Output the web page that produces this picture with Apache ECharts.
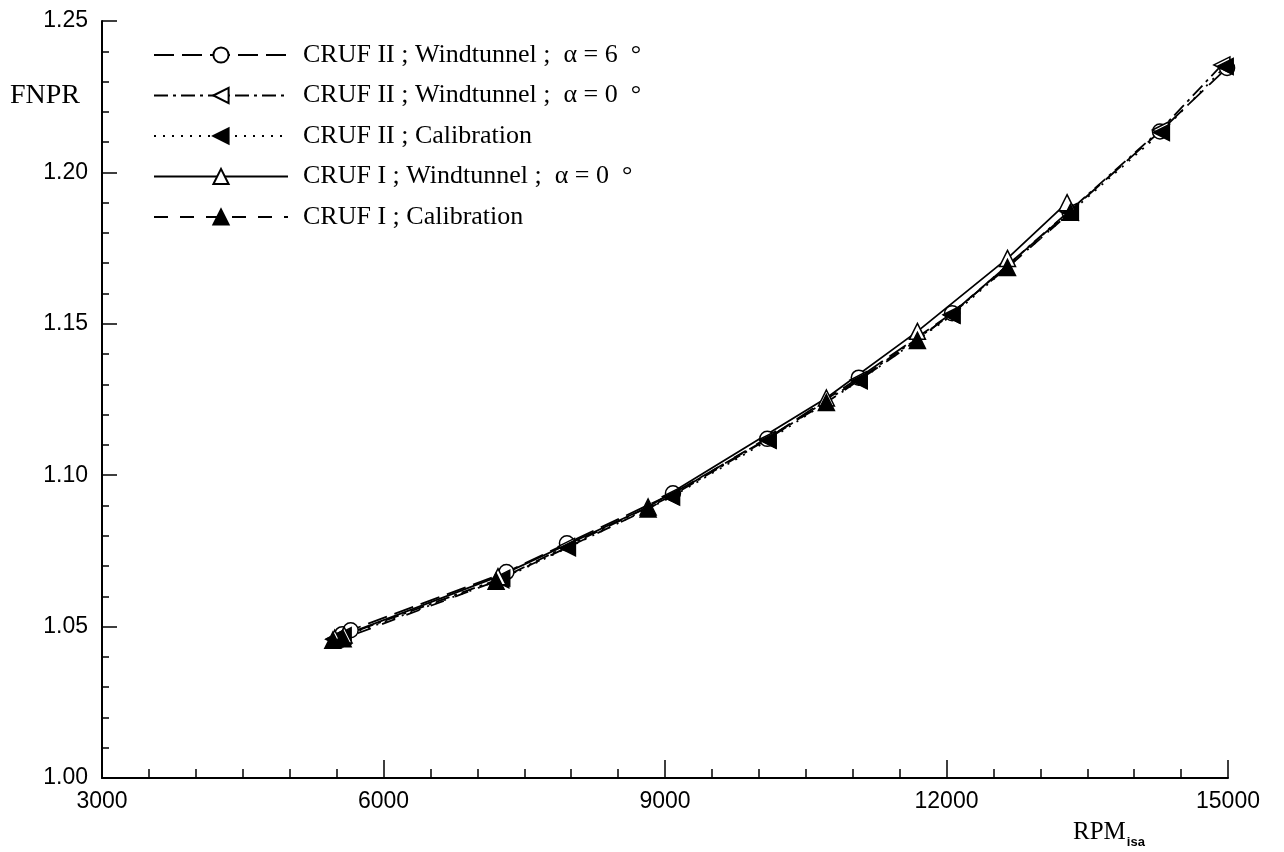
<!DOCTYPE html>
<html>
<head>
<meta charset="utf-8">
<script src="https://cdn.jsdelivr.net/npm/echarts@6/dist/echarts.min.js"></script>
<style>
  html, body { margin: 0; padding: 0; background: #fff; }
  #chart { width: 1284px; height: 852px; }
</style>
</head>
<body>
<div id="chart"></div>
<script>
// CRUF II ; Windtunnel ; alpha = 6 deg (open circles)
const cruf2Wt6Rpm = [5560, 5650, 7310, 7955, 9085, 10090, 11065, 12060, 13310, 14275, 14990]
const cruf2Wt6Fnpr = [1.0475, 1.0488, 1.0680, 1.0775, 1.0940, 1.1120, 1.1322, 1.1535, 1.1870, 1.2135, 1.2345]

// CRUF II ; Windtunnel ; alpha = 0 deg (open left triangles)
const cruf2Wt0Rpm = [5480, 5570, 7260, 7950, 9060, 10090, 11060, 12050, 13300, 14280, 14935]
const cruf2Wt0Fnpr = [1.0460, 1.0470, 1.0660, 1.0765, 1.0930, 1.1118, 1.1315, 1.1530, 1.1870, 1.2140, 1.2355]

// CRUF II ; Calibration (filled left triangles)
const cruf2CalRpm = [5470, 5560, 7250, 7960, 9070, 10100, 11070, 12060, 13320, 14290, 14970]
const cruf2CalFnpr = [1.0458, 1.0465, 1.0655, 1.0760, 1.0928, 1.1115, 1.1312, 1.1528, 1.1868, 1.2132, 1.2350]

// CRUF I ; Windtunnel ; alpha = 0 deg (open triangles)
const cruf1WtRpm = [5480, 5580, 7220, 8820, 10720, 11690, 12650, 13285]
const cruf1WtFnpr = [1.0462, 1.0472, 1.0665, 1.0895, 1.1255, 1.1475, 1.1716, 1.1900]

// CRUF I ; Calibration (filled triangles)
const cruf1CalRpm = [5460, 5570, 7200, 8820, 10720, 11690, 12650, 13320]
const cruf1CalFnpr = [1.0455, 1.0460, 1.0650, 1.0888, 1.1240, 1.1445, 1.1686, 1.1868]

const legendNames = [
  'CRUF II ; Windtunnel ;  α = 6  °',
  'CRUF II ; Windtunnel ;  α = 0  °',
  'CRUF II ; Calibration',
  'CRUF I ; Windtunnel ;  α = 0  °',
  'CRUF I ; Calibration'
]

const xTicks = [3000, 6000, 9000, 12000, 15000]
const yTicks = [1.00, 1.05, 1.10, 1.15, 1.20, 1.25]

const serif = '"Liberation Serif", "DejaVu Serif", serif'
const sans = '"Liberation Sans", Arial, sans-serif'

function pairs(xs, ys) {
  return xs.map((x, i) => [x, ys[i]])
}

function makeSeries(name, xs, ys, symbol, rotate, size, filled, dash) {
  return {
    name: name,
    type: 'line',
    data: pairs(xs, ys),
    symbol: symbol,
    symbolRotate: rotate,
    symbolSize: size,
    showAllSymbol: true,
    animation: false,
    lineStyle: { color: '#000', width: 1.8, type: dash },
    itemStyle: {
      color: filled ? '#000' : '#fff',
      borderColor: '#000',
      borderWidth: 1.5
    },
    emphasis: { disabled: true }
  }
}

const chart = echarts.init(document.getElementById('chart'))

chart.setOption({
  backgroundColor: '#fff',
  animation: false,
  grid: { left: 102, right: 56, top: 21, bottom: 74, containLabel: false },
  legend: {
    orient: 'vertical',
    left: 148,
    top: 37,
    itemWidth: 134,
    itemHeight: 19,
    itemGap: 14.5,
    selectedMode: false,
    data: legendNames,
    textStyle: {
      fontFamily: serif,
      fontSize: 26,
      color: '#000',
      lineHeight: 24,
      padding: [0, 0, 0, 10]
    }
  },
  xAxis: {
    type: 'value',
    min: xTicks[0],
    max: xTicks[xTicks.length - 1],
    interval: 3000,
    splitLine: { show: false },
    axisLine: { show: true, onZero: false, lineStyle: { color: '#000', width: 2 } },
    axisTick: { show: true, inside: true, length: 18, lineStyle: { color: '#000', width: 1.5 } },
    minorTick: { show: true, splitNumber: 6, length: 9, lineStyle: { color: '#000', width: 1.5 } },
    axisLabel: {
      color: '#000',
      fontFamily: sans,
      fontSize: 23,
      margin: 12,
      formatter: v => String(v)
    }
  },
  yAxis: {
    type: 'value',
    min: yTicks[0],
    max: yTicks[yTicks.length - 1],
    interval: 0.05,
    splitLine: { show: false },
    axisLine: { show: true, onZero: false, lineStyle: { color: '#000', width: 2 } },
    axisTick: { show: true, inside: true, length: 15, lineStyle: { color: '#000', width: 1.5 } },
    minorTick: { show: true, splitNumber: 5, length: 7, lineStyle: { color: '#000', width: 1.5 } },
    axisLabel: {
      color: '#000',
      fontFamily: sans,
      fontSize: 23,
      margin: 14,
      formatter: v => v.toFixed(2)
    }
  },
  graphic: [
    {
      type: 'text',
      left: 10,
      top: 82,
      style: { text: 'FNPR', font: '28px ' + serif, fill: '#000' }
    },
    {
      type: 'text',
      left: 1073,
      top: 820,
      style: {
        text: '{m|RPM}{s|isa}',
        rich: {
          m: { font: '25px ' + serif, fill: '#000', verticalAlign: 'bottom' },
          s: { font: 'bold 13px ' + sans, fill: '#000', verticalAlign: 'bottom', padding: [0, 0, -4, 1] }
        }
      }
    }
  ],
  series: [
    makeSeries(legendNames[0], cruf2Wt6Rpm, cruf2Wt6Fnpr, 'circle', 0, 15, false, [20, 8]),
    makeSeries(legendNames[1], cruf2Wt0Rpm, cruf2Wt0Fnpr, 'triangle', 90, 16, false, [14, 5, 3, 5]),
    makeSeries(legendNames[2], cruf2CalRpm, cruf2CalFnpr, 'triangle', 90, 16, true, [2, 7]),
    makeSeries(legendNames[3], cruf1WtRpm, cruf1WtFnpr, 'triangle', 0, 16, false, 'solid'),
    makeSeries(legendNames[4], cruf1CalRpm, cruf1CalFnpr, 'triangle', 0, 16, true, [14, 12])
  ]
})
</script>
</body>
</html>
